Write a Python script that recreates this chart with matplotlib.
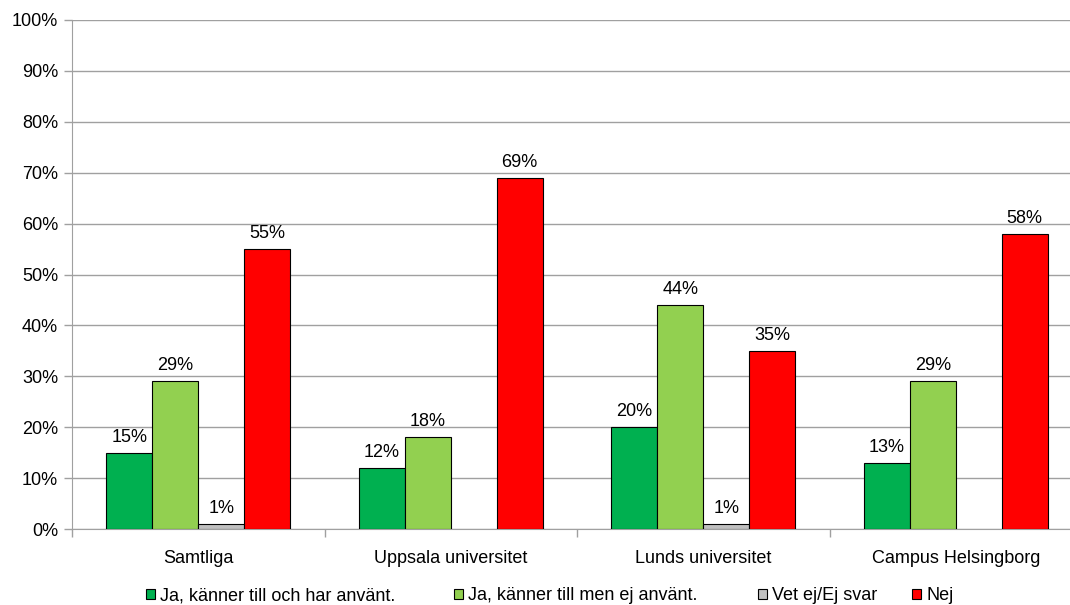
import numpy as np
import matplotlib
matplotlib.use('Agg')
import matplotlib.pyplot as plt
from matplotlib.patches import Patch

categories = ['Samtliga', 'Uppsala universitet', 'Lunds universitet', 'Campus Helsingborg']
series_names = ['Ja, känner till och har använt.', 'Ja, känner till men ej använt.',
                'Vet ej/Ej svar', 'Nej']
har_anvant = [15, 12, 20, 13]
ej_anvant = [29, 18, 44, 29]
vet_ej = [1, None, 1, None]
nej = [55, 69, 35, 58]
y_ticks = [0, 10, 20, 30, 40, 50, 60, 70, 80, 90, 100]

colors = ['#00B050', '#92D050', '#C0C0C0', '#FF0000']
FS = 13

plt.rcParams['font.family'] = ['Liberation Sans', 'DejaVu Sans']

fig = plt.figure(figsize=(10.7, 6.05), dpi=100)
ax = fig.add_axes([72 / 1070, 1 - 529 / 605, 1010 / 1070, 509 / 605])

x = np.arange(len(categories))
w = 0.182
all_series = [har_anvant, ej_anvant, vet_ej, nej]
for i, (vals, col) in enumerate(zip(all_series, colors)):
    for xi, v in zip(x, vals):
        if v is None:
            continue
        pos = xi + (i - 1.5) * w
        ax.bar(pos, v, width=w, color=col, edgecolor='black', linewidth=0.8, zorder=3)
        ax.annotate(f'{v}%', (pos, v), xytext=(0, 5), textcoords='offset points',
                    ha='center', va='bottom', fontsize=FS, zorder=4)

ax.set_xlim(-0.5, len(categories) - 0.5)
ax.set_ylim(0, 100)
ax.set_yticks(y_ticks)
ax.set_yticklabels([f'{t}%' for t in y_ticks], fontsize=FS)
ax.yaxis.grid(True, color='#A0A0A0', linewidth=1.0, zorder=0)
ax.set_axisbelow(True)

ax.set_xticks(x)
ax.set_xticklabels(categories, fontsize=FS)
ax.tick_params(axis='x', length=0, pad=15)
ax.set_xticks(np.arange(len(categories) + 1) - 0.5, minor=True)
ax.tick_params(axis='x', which='minor', length=6, color='#A0A0A0', width=1)
ax.tick_params(axis='y', length=6, color='#A0A0A0', width=1, pad=4)

for s in ['top', 'right']:
    ax.spines[s].set_visible(False)
ax.spines['left'].set_color('#A0A0A0')
ax.spines['bottom'].set_color('#A0A0A0')

# legend entries placed one by one, like the Excel layout
legend_x = [146, 454, 758, 912]
for name, col, lx in zip(series_names, colors, legend_x):
    h = Patch(facecolor=col, edgecolor='black', linewidth=0.8)
    fig.legend([h], [name], loc='center left', bbox_to_anchor=(lx / 1070, 1 - 596 / 605),
               frameon=False, fontsize=FS, handlelength=0.5, handleheight=0.5,
               handletextpad=0.3, borderpad=0, borderaxespad=0)

fig.savefig('out.png', dpi=100)
